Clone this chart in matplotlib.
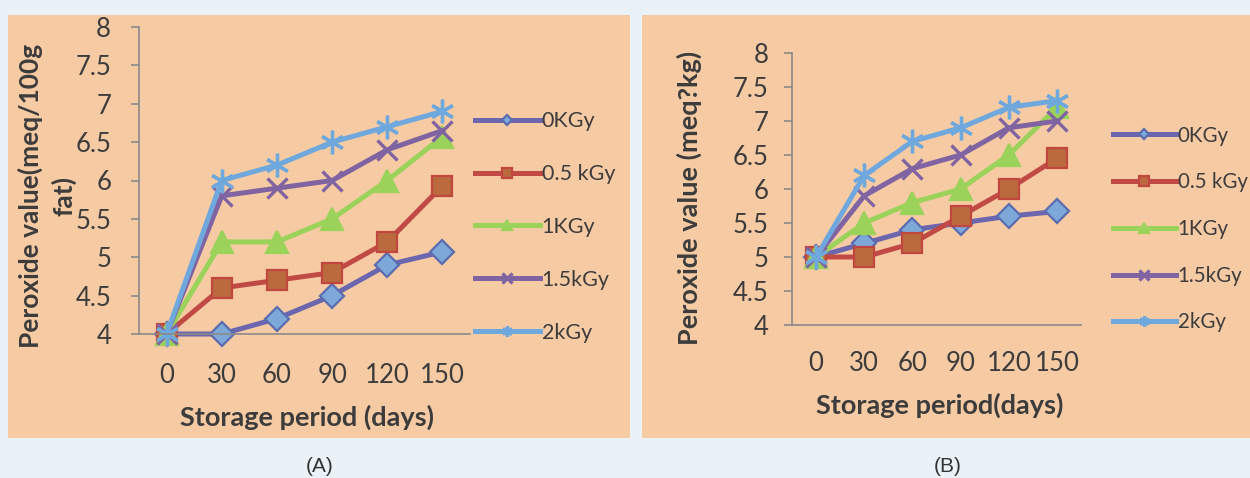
import matplotlib
matplotlib.use("Agg")
import matplotlib.pyplot as plt
from matplotlib.patches import Rectangle

plt.rcParams["font.family"] = ["Lato", "DejaVu Sans"]

days = ["0", "30", "60", "90", "120", "150"]
doses = ["0KGy", "0.5 kGy", "1KGy", "1.5kGy", "2kGy"]

# peroxide value (meq/100g fat) - panel A
a_0kgy = [4.0, 4.0, 4.2, 4.5, 4.9, 5.07]
a_05kgy = [4.0, 4.6, 4.7, 4.8, 5.2, 5.93]
a_1kgy = [4.0, 5.2, 5.2, 5.5, 6.0, 6.57]
a_15kgy = [4.0, 5.8, 5.9, 6.0, 6.4, 6.65]
a_2kgy = [4.0, 6.0, 6.2, 6.5, 6.7, 6.9]

# peroxide value (meq/kg) - panel B
b_0kgy = [5.0, 5.2, 5.4, 5.5, 5.6, 5.67]
b_05kgy = [5.0, 5.0, 5.2, 5.6, 6.0, 6.45]
b_1kgy = [5.0, 5.5, 5.8, 6.0, 6.5, 7.2]
b_15kgy = [5.0, 5.9, 6.3, 6.5, 6.9, 7.0]
b_2kgy = [5.0, 6.2, 6.7, 6.9, 7.2, 7.3]

yticks = [4, 4.5, 5, 5.5, 6, 6.5, 7, 7.5, 8]

# line colour, marker, marker face, marker edge, marker size
styles = [
    ("#6b66ad", "D", "#7ea8d8", "#5c6cb0", 12),
    ("#c24a45", "s", "#bb6a3e", "#c0463f", 14.5),
    ("#9bd25a", "^", "#9bd25a", "#9bd25a", 16),
    ("#8064a2", "x", "#8064a2", "#8064a2", 15),
    ("#6fa8dc", (6, 2, 0), "#6fa8dc", "#6fa8dc", 17),
]

txt = "#3c3c3c"
peach = "#f6cba4"

fig = plt.figure(figsize=(12.5, 4.78), dpi=100)
fig.patch.set_facecolor("#eaf2f7")

# peach panels behind each chart
fig.patches.append(Rectangle((8 / 1250, 1 - 438 / 478), 622 / 1250, 423 / 478,
                             transform=fig.transFigure, facecolor=peach,
                             edgecolor="none", zorder=-5))
fig.patches.append(Rectangle((642 / 1250, 1 - 438 / 478), 608 / 1250, 423 / 478,
                             transform=fig.transFigure, facecolor=peach,
                             edgecolor="none", zorder=-5))


def draw_panel(ax, series, ypad, xpad):
    x = range(len(days))
    handles = []
    for vals, (lc, mk, mf, me, ms) in zip(series, styles):
        h, = ax.plot(x, vals, color=lc, lw=3.6, marker=mk, markersize=ms,
                     markerfacecolor=mf, markeredgecolor=me,
                     markeredgewidth=2.4 if mk in ("x", (6, 2, 0)) else 1.6,
                     clip_on=False)
        handles.append(h)
    ax.set_xlim(-0.5, 5.5)
    ax.set_ylim(4, 8)
    ax.set_xticks(list(x))
    ax.set_xticklabels(days)
    ax.set_yticks(yticks)
    ax.set_yticklabels([f"{v:g}" for v in yticks])
    ax.set_facecolor("none")
    for s in ("top", "right"):
        ax.spines[s].set_visible(False)
    for s in ("left", "bottom"):
        ax.spines[s].set_color("#8a8a8a")
        ax.spines[s].set_linewidth(1.2)
    ax.tick_params(axis="y", length=6, width=1.2, color="#8a8a8a",
                   labelsize=18.5, labelcolor=txt, pad=ypad)
    ax.tick_params(axis="x", length=0, labelsize=18.5, labelcolor=txt, pad=xpad)
    return handles


ax_a = fig.add_axes([139 / 1250, 1 - 334 / 478, 331 / 1250, 307 / 478])
h_a = draw_panel(ax_a, [a_0kgy, a_05kgy, a_1kgy, a_15kgy, a_2kgy], 14, 21)
ax_b = fig.add_axes([792 / 1250, 1 - 325 / 478, 289 / 1250, 272 / 478])
h_b = draw_panel(ax_b, [b_0kgy, b_05kgy, b_1kgy, b_15kgy, b_2kgy], 11, 19)

fig.text(47 / 1250, 1 - 196 / 478, "Peroxide value(meq/100g\nfat)",
         rotation=90, ha="center", va="center", fontsize=19, fontweight="bold",
         color=txt, linespacing=1.4)
fig.text(307 / 1250, 1 - 417 / 478, "Storage period (days)", ha="center",
         va="center", fontsize=19.5, fontweight="bold", color=txt)
fig.text(689 / 1250, 1 - 198 / 478, "Peroxide value (meq?kg)", rotation=90,
         ha="center", va="center", fontsize=19.5, fontweight="bold", color=txt)
fig.text(940 / 1250, 1 - 405 / 478, "Storage period(days)", ha="center",
         va="center", fontsize=19.5, fontweight="bold", color=txt)

for h, anchor, fs, spacing, hl in (
        (h_a, (475 / 1250, 1 - 227 / 478), 15.5, 1.53, 3.0),
        (h_b, (1113 / 1250, 1 - 229 / 478), 14.8, 1.3, 3.05)):
    fig.legend(h, doses, loc="center left", bbox_to_anchor=anchor,
               frameon=False, fontsize=fs, labelcolor=txt, markerscale=0.45,
               handlelength=hl, handletextpad=0.1, labelspacing=spacing,
               borderpad=0, borderaxespad=0)

fig.text(320 / 1250, 1 - 466 / 478, "(A)", ha="center", va="center",
         fontsize=15, color="#333333", family=["Liberation Sans", "DejaVu Sans"])
fig.text(948 / 1250, 1 - 466 / 478, "(B)", ha="center", va="center",
         fontsize=15, color="#333333", family=["Liberation Sans", "DejaVu Sans"])

fig.savefig("out.png", dpi=100, facecolor=fig.get_facecolor())
